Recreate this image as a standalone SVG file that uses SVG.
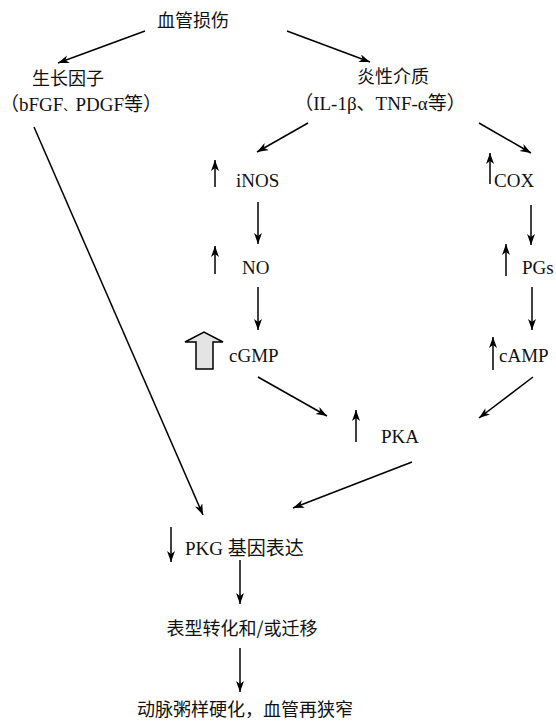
<svg xmlns="http://www.w3.org/2000/svg" width="556" height="722" viewBox="0 0 556 722">
<style>
.cn{font-family:"Noto Sans CJK SC",sans-serif;font-size:18px;fill:#111}
.en{font-family:"Liberation Serif","Noto Sans CJK SC",serif;font-size:19px;fill:#111}
.ln{stroke:#000;stroke-width:1.5;fill:none;marker-end:url(#ah)}
</style>
<defs>
<marker id="ah" markerUnits="userSpaceOnUse" markerWidth="12" markerHeight="9" refX="11" refY="4" orient="auto">
<path d="M0,0 L11,4 L0,8 L3,4 Z" fill="#000"/>
</marker>
</defs>
<rect width="556" height="722" fill="#fff"/>
<g id="connectors">
<line class="ln" x1="145" y1="31" x2="58" y2="63"/>
<line class="ln" x1="287" y1="31" x2="370" y2="62"/>
<line class="ln" x1="308" y1="123" x2="257" y2="152"/>
<line class="ln" x1="479" y1="123" x2="531" y2="153"/>
<line class="ln" x1="258" y1="202" x2="258" y2="244"/>
<line class="ln" x1="531" y1="205" x2="531" y2="245"/>
<line class="ln" x1="258" y1="287" x2="258" y2="330"/>
<line class="ln" x1="532" y1="287" x2="532" y2="330"/>
<line class="ln" x1="258" y1="377" x2="327" y2="416"/>
<line class="ln" x1="533" y1="377" x2="479" y2="418"/>
<line class="ln" x1="412" y1="462" x2="293" y2="508"/>
<line class="ln" x1="34" y1="127" x2="203" y2="515"/>
<line class="ln" x1="240" y1="560" x2="240" y2="604"/>
<line class="ln" x1="240" y1="648" x2="240" y2="692"/>
</g>
<g id="n_injury"><text class="cn" x="193" y="27" text-anchor="middle">血管损伤</text></g>
<g id="n_growth">
<text class="cn" x="68" y="85" text-anchor="middle">生长因子</text>
<text class="en" x="0" y="111" font-size="18.5">（bFGF<tspan font-size="12">、</tspan>PDGF等）</text>
</g>
<g id="n_inflam">
<text class="cn" x="393" y="83" text-anchor="middle">炎性介质</text>
<text class="en" x="380" y="110" text-anchor="middle">（IL-1β、TNF-α等）</text>
</g>
<g id="n_inos">
<line class="ln" x1="215" y1="187" x2="215" y2="160"/>
<text class="en" x="236" y="187">iNOS</text>
</g>
<g id="n_cox">
<line class="ln" x1="490" y1="184" x2="490" y2="153"/>
<text class="en" x="494" y="187">COX</text>
</g>
<g id="n_no">
<line class="ln" x1="215" y1="274" x2="215" y2="246"/>
<text class="en" x="242" y="274">NO</text>
</g>
<g id="n_pgs">
<line class="ln" x1="506" y1="276" x2="506" y2="244"/>
<text class="en" x="522" y="274">PGs</text>
</g>
<g id="n_cgmp">
<polygon points="185,342 204,332 223,342 213,342 213,369 196,369 196,342" fill="#e4e4e4" stroke="#000" stroke-width="1.5" stroke-linejoin="miter"/>
<text class="en" x="229" y="362">cGMP</text>
</g>
<g id="n_camp">
<line class="ln" x1="493" y1="370" x2="493" y2="337"/>
<text class="en" x="499" y="362">cAMP</text>
</g>
<g id="n_pka">
<line class="ln" x1="356" y1="442" x2="356" y2="410"/>
<text class="en" x="381" y="443">PKA</text>
</g>
<g id="n_pkg">
<line class="ln" x1="171" y1="527" x2="171" y2="562"/>
<text class="en" x="185" y="555">PKG 基因表达</text>
</g>
<g id="n_pheno"><text class="cn" x="242" y="635" text-anchor="middle">表型转化和/或迁移</text></g>
<g id="n_result"><text class="cn" x="245" y="716" text-anchor="middle" font-size="19">动脉粥样硬化，血管再狭窄</text></g>
</svg>
